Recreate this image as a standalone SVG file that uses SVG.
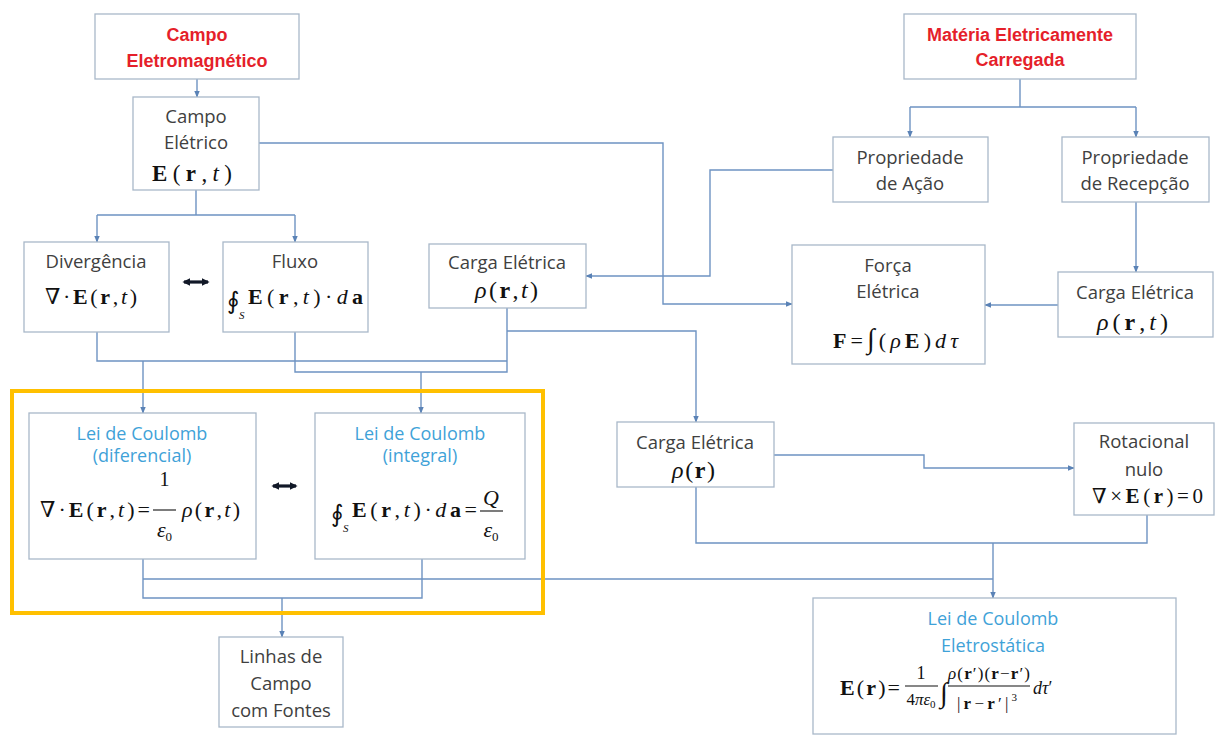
<svg xmlns="http://www.w3.org/2000/svg" width="1216" height="737" viewBox="0 0 1216 737">
  <defs>
    <style>
      .box { fill: #ffffff; stroke: #a9b8c9; stroke-width: 1.3; }
      .conn { fill: none; stroke: #6e93c2; stroke-width: 1.4; }
      .arr { marker-end: url(#tip); }
      .lbl { font-family: "Open Sans", "DejaVu Sans", sans-serif; font-size: 18.5px; fill: #404040; text-anchor: middle; }
      .red { font-family: "Liberation Sans", Arial, sans-serif; font-weight: bold; font-size: 18px; fill: #e51f2b; text-anchor: middle; }
      .blue { font-family: "Open Sans", "DejaVu Sans", sans-serif; font-size: 18px; fill: #3fa2d8; text-anchor: middle; }
      .m { font-family: "Liberation Serif", "DejaVu Serif", serif; font-size: 22px; fill: #111111; }
      .b { font-weight: bold; }
      .i { font-style: italic; }
      .frac { stroke: #111111; stroke-width: 1.1; }
      .dbl { stroke: #111827; stroke-width: 3.2; marker-start: url(#dtip); marker-end: url(#dtip); }
      .focus { fill: none; stroke: #ffc000; stroke-width: 4; }
    </style>
    <marker id="tip" viewBox="0 0 10 10" refX="9" refY="5" markerWidth="7" markerHeight="7" markerUnits="userSpaceOnUse" orient="auto">
      <path d="M0,1 L10,5 L0,9 Z" fill="#5a82b6"/>
    </marker>
    <marker id="dtip" viewBox="0 0 10 10" refX="8" refY="5" markerWidth="8" markerHeight="8" markerUnits="userSpaceOnUse" orient="auto-start-reverse">
      <path d="M0,0 L10,5 L0,10 Z" fill="#111827"/>
    </marker>
  </defs>

  <rect width="1216" height="737" fill="#ffffff"/>

  <!-- connectors -->
  <g id="connectors">
    <path class="conn arr" d="M197,79 V97"/>
    <path class="conn" d="M196,190 V215 M97,215 H295"/>
    <path class="conn arr" d="M97,215 V242"/>
    <path class="conn arr" d="M295,215 V242"/>
    <path class="conn arr" d="M259,143 H663 V304 H792"/>
    <path class="conn" d="M1020,79 V107 M910,107 H1136"/>
    <path class="conn arr" d="M910,107 V137"/>
    <path class="conn arr" d="M1136,107 V137"/>
    <path class="conn arr" d="M833,170 H710 V276 H586"/>
    <path class="conn arr" d="M1136,202 V272"/>
    <path class="conn arr" d="M1058,305 H985"/>
    <path class="conn" d="M97,332 V361 H507"/>
    <path class="conn arr" d="M143,361 V413"/>
    <path class="conn" d="M507,308 V372 H295 V332"/>
    <path class="conn arr" d="M421,372 V413"/>
    <path class="conn arr" d="M507,331 H696 V422"/>
    <path class="conn arr" d="M774,455 H924 V468 H1074"/>
    <path class="conn" d="M696,487 V543 H1147 V515"/>
    <path class="conn arr" d="M993,543 V598"/>
    <path class="conn" d="M143,559 V598 H422 V559 M143,579 H993"/>
    <path class="conn arr" d="M282,598 V637"/>
    <line class="dbl" x1="184" y1="282" x2="208" y2="282"/>
    <line class="dbl" x1="273" y1="486" x2="296" y2="486"/>
  </g>

  <!-- highlighted pair of Coulomb laws -->
  <rect class="focus" x="12" y="391" width="531" height="222"/>

  <g id="campo-eletromagnetico">
    <rect class="box" x="95" y="14" width="204" height="65"/>
    <text class="red" x="197" y="41">Campo</text>
    <text class="red" x="197" y="67">Eletromagnético</text>
  </g>

  <g id="campo-eletrico">
    <rect class="box" x="133" y="97" width="126" height="93"/>
    <text class="lbl" x="196" y="123">Campo</text>
    <text class="lbl" x="196" y="149">Elétrico</text>
    <text class="m" x="152" y="181" textLength="80" lengthAdjust="spacing" style="font-size:23px"><tspan class="b">E</tspan>(<tspan class="b">r</tspan>,<tspan class="i">t</tspan>)</text>
  </g>

  <g id="divergencia">
    <rect class="box" x="24" y="242" width="145" height="90"/>
    <text class="lbl" x="96" y="268">Divergência</text>
    <text class="m" x="45" y="304" textLength="92" lengthAdjust="spacing">∇·<tspan class="b">E</tspan>(<tspan class="b">r</tspan>,<tspan class="i">t</tspan>)</text>
  </g>

  <g id="fluxo">
    <rect class="box" x="223" y="242" width="145" height="90"/>
    <text class="lbl" x="295" y="268">Fluxo</text>
    <text class="m" x="227" y="309"><tspan style="font-size:24px">∮</tspan><tspan class="i" style="font-size:11px" dx="-1" dy="10">S</tspan></text>
    <text class="m" x="248" y="304" textLength="115" lengthAdjust="spacing"><tspan class="b">E</tspan>(<tspan class="b">r</tspan>,<tspan class="i">t</tspan>)·<tspan class="i">d</tspan><tspan class="b">a</tspan></text>
  </g>

  <g id="carga-eletrica-acao">
    <rect class="box" x="429" y="244" width="157" height="64"/>
    <text class="lbl" x="507" y="269">Carga Elétrica</text>
    <text class="m" x="475" y="298" textLength="63" lengthAdjust="spacing" style="font-size:24px"><tspan class="i">ρ</tspan>(<tspan class="b">r</tspan>,<tspan class="i">t</tspan>)</text>
  </g>

  <g id="materia-carregada">
    <rect class="box" x="904" y="14" width="232" height="65"/>
    <text class="red" x="1020" y="41">Matéria Eletricamente</text>
    <text class="red" x="1020" y="66">Carregada</text>
  </g>

  <g id="propriedade-acao">
    <rect class="box" x="833" y="137" width="155" height="65"/>
    <text class="lbl" x="910" y="164">Propriedade</text>
    <text class="lbl" x="910" y="190">de Ação</text>
  </g>

  <g id="propriedade-recepcao">
    <rect class="box" x="1062" y="137" width="147" height="65"/>
    <text class="lbl" x="1135" y="164">Propriedade</text>
    <text class="lbl" x="1135" y="190">de Recepção</text>
  </g>

  <g id="forca-eletrica">
    <rect class="box" x="792" y="245" width="193" height="119"/>
    <text class="lbl" x="888" y="272">Força</text>
    <text class="lbl" x="888" y="298">Elétrica</text>
    <text class="m" x="833" y="348" textLength="125" lengthAdjust="spacing"><tspan class="b">F</tspan>=<tspan style="font-size:28px">∫</tspan>(<tspan class="i">ρ</tspan><tspan class="b">E</tspan>)<tspan class="i">dτ</tspan></text>
  </g>

  <g id="carga-eletrica-recepcao">
    <rect class="box" x="1058" y="272" width="155" height="65"/>
    <text class="lbl" x="1135" y="299">Carga Elétrica</text>
    <text class="m" x="1097" y="330" textLength="71" lengthAdjust="spacing" style="font-size:24px"><tspan class="i">ρ</tspan>(<tspan class="b">r</tspan>,<tspan class="i">t</tspan>)</text>
  </g>

  <g id="lei-coulomb-diferencial">
    <rect class="box" x="29" y="413" width="227" height="146"/>
    <text class="blue" x="142" y="440">Lei de Coulomb</text>
    <text class="blue" x="142" y="462">(diferencial)</text>
    <text class="m" x="40" y="517" textLength="110" lengthAdjust="spacing">∇·<tspan class="b">E</tspan>(<tspan class="b">r</tspan>,<tspan class="i">t</tspan>)=</text>
    <text class="m" x="164.5" y="486" text-anchor="middle" style="font-size:20px">1</text>
    <line class="frac" x1="153" y1="510" x2="176" y2="510"/>
    <text class="m" x="164.5" y="537" text-anchor="middle"><tspan class="i">ε</tspan><tspan style="font-size:13px" dy="4">0</tspan></text>
    <text class="m" x="182" y="517" textLength="58" lengthAdjust="spacing"><tspan class="i">ρ</tspan>(<tspan class="b">r</tspan>,<tspan class="i">t</tspan>)</text>
  </g>

  <g id="lei-coulomb-integral">
    <rect class="box" x="315" y="413" width="210" height="146"/>
    <text class="blue" x="420" y="440">Lei de Coulomb</text>
    <text class="blue" x="420" y="462">(integral)</text>
    <text class="m" x="331" y="522"><tspan style="font-size:24px">∮</tspan><tspan class="i" style="font-size:11px" dx="-1" dy="10">S</tspan></text>
    <text class="m" x="352" y="517" textLength="125" lengthAdjust="spacing"><tspan class="b">E</tspan>(<tspan class="b">r</tspan>,<tspan class="i">t</tspan>)·<tspan class="i">d</tspan><tspan class="b">a</tspan>=</text>
    <text class="m i" x="491" y="505" text-anchor="middle">Q</text>
    <line class="frac" x1="480" y1="511" x2="503" y2="511"/>
    <text class="m" x="491" y="537" text-anchor="middle"><tspan class="i">ε</tspan><tspan style="font-size:13px" dy="4">0</tspan></text>
  </g>

  <g id="carga-eletrica-estatica">
    <rect class="box" x="617" y="422" width="157" height="65"/>
    <text class="lbl" x="695" y="449">Carga Elétrica</text>
    <text class="m" x="672" y="478" textLength="43" lengthAdjust="spacing" style="font-size:24px"><tspan class="i">ρ</tspan>(<tspan class="b">r</tspan>)</text>
  </g>

  <g id="rotacional-nulo">
    <rect class="box" x="1074" y="423" width="140" height="92"/>
    <text class="lbl" x="1144" y="448">Rotacional</text>
    <text class="lbl" x="1144" y="476">nulo</text>
    <text class="m" x="1092" y="503" textLength="111" lengthAdjust="spacing" style="font-size:21px">∇×<tspan class="b">E</tspan>(<tspan class="b">r</tspan>)=0</text>
  </g>

  <g id="linhas-de-campo">
    <rect class="box" x="219" y="637" width="124" height="90"/>
    <text class="lbl" x="281" y="663">Linhas de</text>
    <text class="lbl" x="281" y="690">Campo</text>
    <text class="lbl" x="281" y="717">com Fontes</text>
  </g>

  <g id="lei-coulomb-eletrostatica">
    <rect class="box" x="813" y="598" width="363" height="136"/>
    <text class="blue" x="993" y="625">Lei de Coulomb</text>
    <text class="blue" x="993" y="652">Eletrostática</text>
    <text class="m" x="840" y="695" textLength="60" lengthAdjust="spacing"><tspan class="b">E</tspan>(<tspan class="b">r</tspan>)=</text>
    <text class="m" x="921" y="679" text-anchor="middle" style="font-size:18px">1</text>
    <line class="frac" x1="905" y1="686" x2="938" y2="686"/>
    <text class="m" x="921" y="705" text-anchor="middle" style="font-size:17px">4<tspan class="i">πε</tspan><tspan style="font-size:11px" dy="3">0</tspan></text>
    <text class="m" x="940" y="702" style="font-size:28px">∫</text>
    <text class="m" x="948" y="679" textLength="82" lengthAdjust="spacing" style="font-size:17px"><tspan class="i">ρ</tspan>(<tspan class="b">r</tspan>′)(<tspan class="b">r</tspan>−<tspan class="b">r</tspan>′)</text>
    <line class="frac" x1="948" y1="686" x2="1030" y2="686"/>
    <text class="m" x="957" y="709" textLength="60" lengthAdjust="spacing" style="font-size:17px">|<tspan class="b">r</tspan>−<tspan class="b">r</tspan>′|<tspan style="font-size:11px" dy="-8">3</tspan></text>
    <text class="m" x="1033" y="694" style="font-size:18px"><tspan class="i">dτ</tspan>′</text>
  </g>
</svg>
